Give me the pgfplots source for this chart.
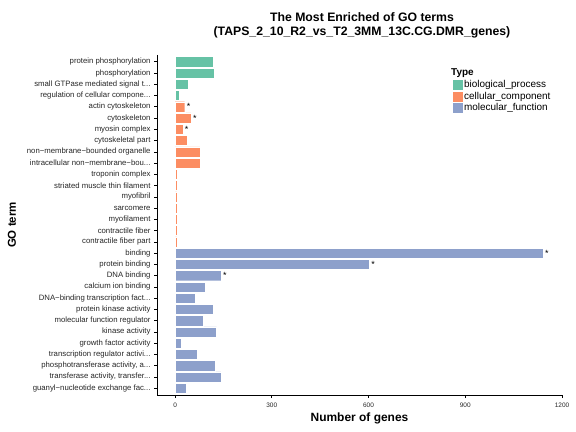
\documentclass[border=0pt]{standalone}
\usepackage{pgfplots}
\pgfplotsset{compat=1.18}
\usepackage{fontspec}
\setmainfont{Liberation Sans}
\definecolor{bpc}{HTML}{66C2A5}
\definecolor{ccc}{HTML}{FC8D62}
\definecolor{mfc}{HTML}{8DA0CB}
\newcommand\el{.{}.{}.}
\begin{document}
\begin{tikzpicture}
\useasboundingbox (0bp,0bp) rectangle (576bp,432bp);
\node[font=\bfseries\fontsize{12.3}{14}\selectfont, align=center] at (362bp,407bp) {The Most Enriched of GO terms\\(TAPS\_2\_10\_R2\_vs\_T2\_3MM\_13C.CG.DMR\_genes)};
\node[font=\bfseries\fontsize{11.5}{12}\selectfont, rotate=90] at (12bp,207bp) {GO term};
\node[font=\bfseries\fontsize{12}{12}\selectfont] at (359.5bp,14bp) {Number of genes};
\node[font=\bfseries\fontsize{10}{10}\selectfont, anchor=west, inner sep=0pt] at (451bp,359bp) {Type};
\begin{axis}[
  at={(157bp,37bp)}, anchor=south west,
  width=405bp, height=340bp, scale only axis,
  xmin=-56, xmax=1200, ymin=0.4, ymax=30.6, y dir=reverse,
  xtick={0,300,600,900,1200},
  ytick={1,2,3,4,5,6,7,8,9,10,11,12,13,14,15,16,17,18,19,20,21,22,23,24,25,26,27,28,29,30},
  yticklabels={protein phosphorylation,phosphorylation,small GTPase mediated signal t\el,regulation of cellular compone\el,actin cytoskeleton,cytoskeleton,myosin complex,cytoskeletal part,non−membrane−bounded organelle,intracellular non−membrane−bou\el,troponin complex,striated muscle thin filament,myofibril,sarcomere,myofilament,contractile fiber,contractile fiber part,binding,protein binding,DNA binding,calcium ion binding,DNA−binding transcription fact\el,protein kinase activity,molecular function regulator,kinase activity,growth factor activity,transcription regulator activi\el,{phosphotransferase activity, a\el},{transferase activity, transfer\el},guanyl−nucleotide exchange fac\el},
  axis x line*=bottom, axis y line*=left,
  axis line style={black, line width=0.8bp},
  tick align=outside, major tick length=3bp,
  tick style={black, line width=0.6bp},
  xticklabel style={font=\fontsize{6.5}{7}\selectfont, text=black!85, yshift=-1.5bp, /pgf/number format/assume math mode=true, /pgf/number format/1000 sep={}},
  scaled x ticks=false,
  yticklabel style={font=\fontsize{7.8}{8}\selectfont, text=black!85},
  xbar, bar width=0.9,
  point meta=explicit symbolic,
  nodes near coords,
  every node near coord/.append style={font=\fontsize{9}{9}\selectfont, inner sep=0pt, xshift=2bp, anchor=west, text=black},
  legend style={at={(0.7284,0.929)}, anchor=north west, draw=none, fill=none, inner sep=0pt, font=\fontsize{10}{10}\selectfont, row sep=0pt, nodes={inner sep=0.5bp}, /tikz/every even column/.append style={column sep=2bp}},
  legend cell align=left,
  legend image code/.code={\path[#1] (0bp,-5.5bp) rectangle (11bp,5.5bp);},
  clip=false,
]
\addplot[bar shift=0pt, fill=bpc, draw=white, line width=0.4bp] coordinates {
(118,1) [{}] (122,2) [{}] (41,3) [{}] (13,4) [{}]
};
\addlegendentry{biological\_process}
\addplot[bar shift=0pt, fill=ccc, draw=white, line width=0.4bp] coordinates {
(30,5) [*] (49,6) [*] (24,7) [*] (39,8) [{}] (77,9) [{}] (77,10) [{}]
(6,11) [{}] (6,12) [{}] (6,13) [{}] (6,14) [{}] (6,15) [{}] (6,16) [{}] (6,17) [{}]
};
\addlegendentry{cellular\_component}
\addplot[bar shift=0pt, fill=mfc, draw=white, line width=0.4bp] coordinates {
(1141,18) [*] (602,19) [*] (142,20) [*] (94,21) [{}] (62,22) [{}] (119,23) [{}]
(87,24) [{}] (129,25) [{}] (20,26) [{}] (68,27) [{}] (126,28) [{}] (142,29) [{}] (36,30) [{}]
};
\addlegendentry{molecular\_function}
\end{axis}
\end{tikzpicture}
\end{document}
